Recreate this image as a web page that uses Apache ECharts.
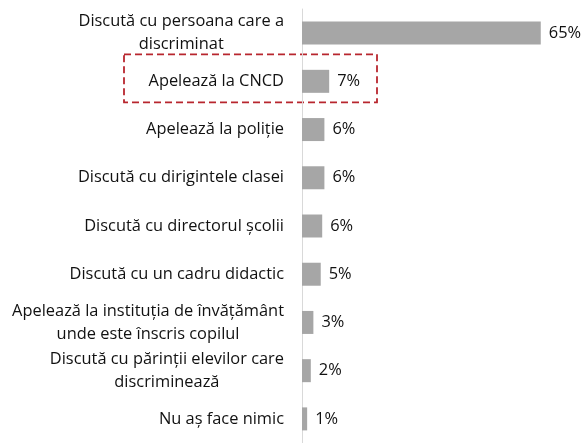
<!DOCTYPE html>
<html>
<head>
<meta charset="utf-8">
<script src="https://cdn.jsdelivr.net/npm/echarts@6/dist/echarts.min.js"></script>
<style>html,body{margin:0;padding:0;background:#fff;}#c{width:583px;height:443px;}</style>
</head>
<body>
<div id="c"></div>
<script>
const categories = [
  'Discută cu persoana care a\ndiscriminat',
  'Apelează la CNCD',
  'Apelează la poliție',
  'Discută cu dirigintele clasei',
  'Discută cu directorul școlii',
  'Discută cu un cadru didactic',
  'Apelează la instituția de învățământ\nunde este înscris copilul',
  'Discută cu părinții elevilor care\ndiscriminează',
  'Nu aș face nimic'
];
const values = [65, 7.4, 6.1, 6.1, 5.5, 5.1, 3.1, 2.4, 1.4];
const valueLabels = ['65%', '7%', '6%', '6%', '6%', '5%', '3%', '2%', '1%'];
const highlighted = 'Apelează la CNCD';

const FONT = 'Open Sans';
const FS = 16.4;
const chart = echarts.init(document.getElementById('c'), null, {renderer: 'canvas'});
chart.setOption({
  animation: false,
  backgroundColor: '#fff',
  grid: {left: 302, right: 0, top: 9, bottom: -7, containLabel: false},
  xAxis: {type: 'value', min: 0, max: 76.5, show: false},
  yAxis: {
    type: 'category', inverse: true, data: categories,
    axisTick: {show: false},
    axisLine: {show: true, lineStyle: {color: '#D9D9D9', width: 1}},
    axisLabel: {
      margin: 18,
      formatter: v => v.split('\n').map(l => '{c|' + l + '}').join('\n'),
      rich: {c: {align: 'center', fontSize: FS, lineHeight: 23, fontFamily: FONT, color: '#111'}}
    }
  },
  series: [{
    type: 'bar', data: values, barWidth: 23,
    itemStyle: {color: '#A6A6A6'},
    label: {
      show: true, position: 'right', distance: 8,
      formatter: p => valueLabels[p.dataIndex],
      fontSize: FS, fontFamily: FONT, color: '#111'
    }
  }]
});
const yc = chart.convertToPixel({yAxisIndex: 0}, highlighted);
chart.setOption({
  graphic: [{
    type: 'rect', shape: {x: 124, y: yc - 27, width: 253, height: 48},
    style: {fill: null, stroke: '#B8262E', lineWidth: 1.8, lineDash: [7, 4]}
  }]
});
</script>
</body>
</html>
